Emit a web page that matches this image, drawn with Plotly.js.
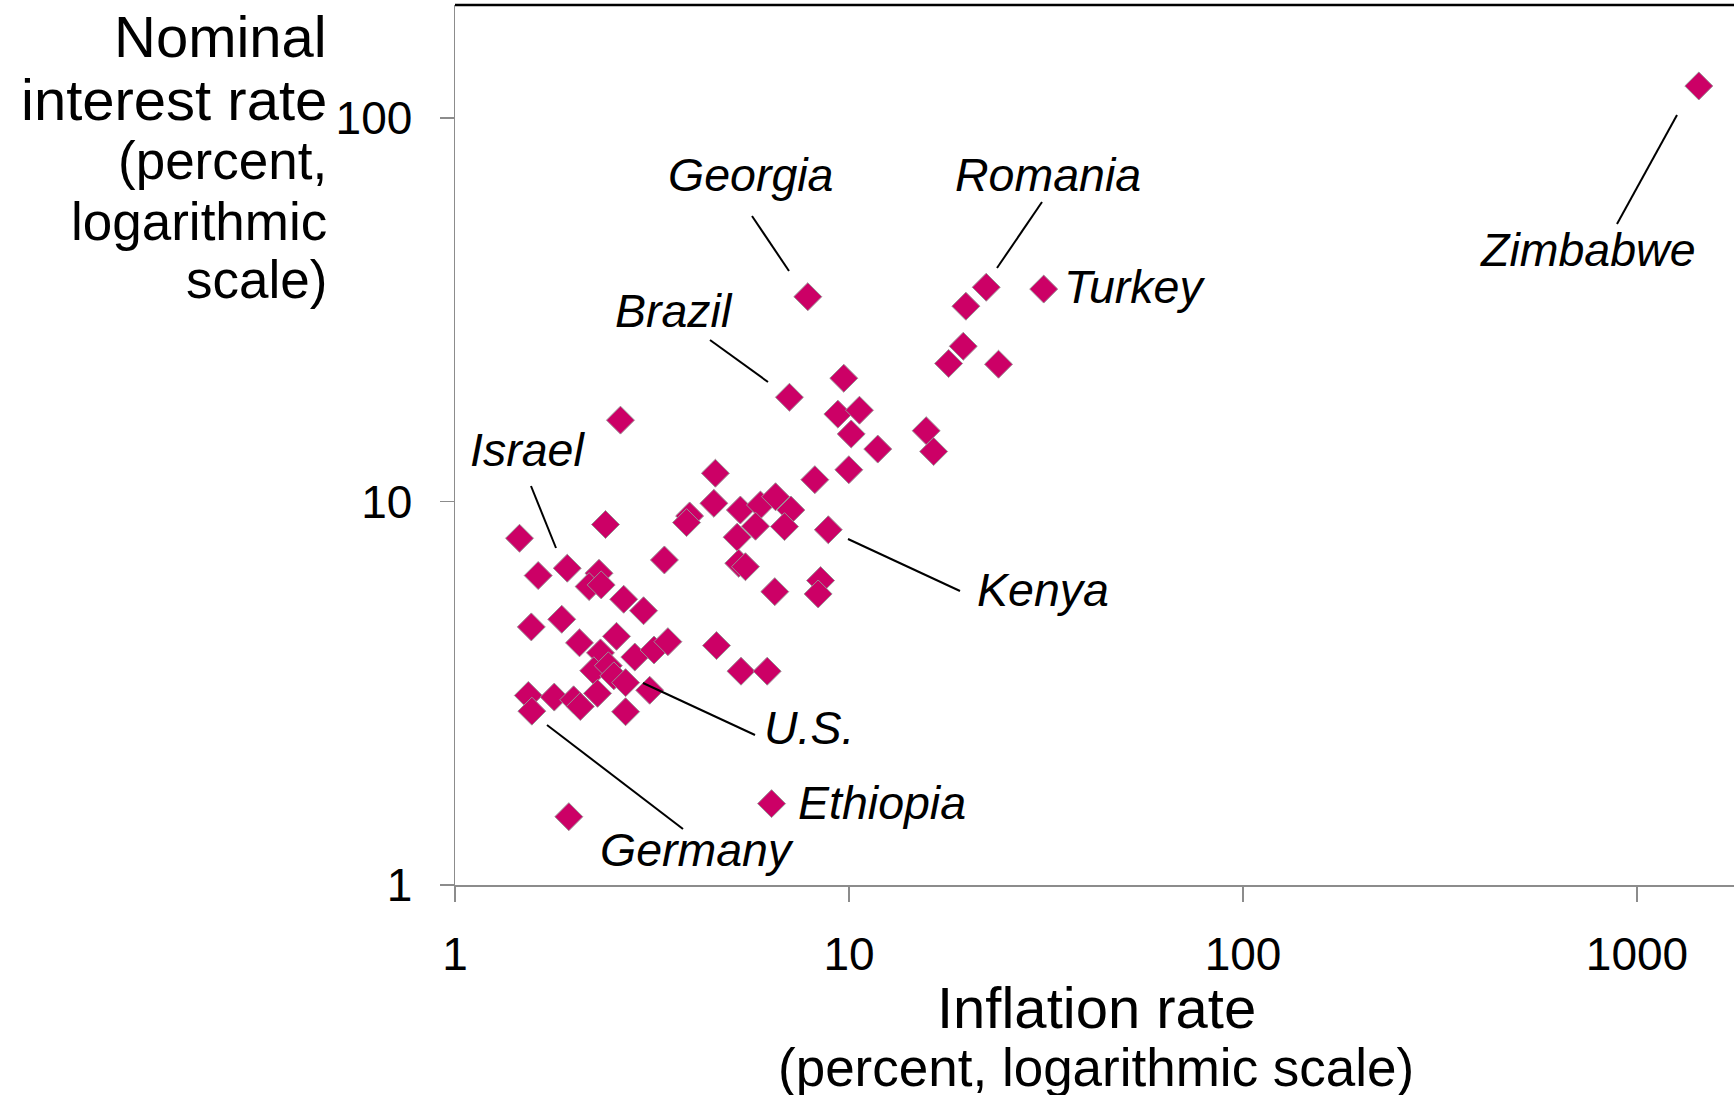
<!DOCTYPE html>
<html>
<head>
<meta charset="utf-8">
<script src="https://cdn.plot.ly/plotly-3.0.1.min.js"></script>
<style>
  html, body { margin: 0; padding: 0; background: #ffffff; }
  #chart { width: 1734px; height: 1095px; }
</style>
</head>
<body>
<div id="chart"></div>
<script>
// ---------------- data ----------------
const inflation = [1435, 7.86, 22.3, 19.8, 31.2, 19.5, 17.9, 23.96, 9.70, 7.06,
  9.37, 10.63, 10.13, 11.83, 15.7, 16.4, 9.99, 8.19, 2.63, 4.58,
  4.54, 5.30, 5.96, 6.51, 7.12, 3.94, 3.87, 5.79, 6.86, 5.20,
  8.86, 5.25, 5.46, 3.40, 6.48, 8.47, 8.35, 3.01, 2.68, 2.41,
  1.458, 1.626, 1.927, 2.32, 2.19, 2.35, 1.562, 1.866, 2.07, 2.57,
  2.34, 2.86, 3.20, 3.47, 4.61, 5.32, 6.20, 2.25, 2.45, 2.53,
  2.71, 2.30, 3.12, 1.535, 1.786, 2.00, 2.08, 1.567, 2.71, 1.945, 6.36];

const interest = [121.2, 34.2, 36.2, 32.3, 35.8, 25.4, 22.9, 22.8, 20.96, 18.7,
  16.9, 17.3, 15.0, 13.7, 15.3, 13.5, 12.1, 11.4, 16.3, 11.85,
  9.89, 9.50, 9.79, 10.29, 9.50, 9.17, 8.81, 8.62, 8.60, 8.07,
  8.44, 6.90, 6.76, 7.04, 5.82, 6.22, 5.74, 5.19, 5.56, 8.71,
  8.02, 6.41, 6.70, 6.50, 6.00, 6.06, 4.71, 4.93, 4.28, 4.45,
  4.03, 3.93, 4.10, 4.31, 4.21, 3.61, 3.61, 3.62, 3.73, 3.51,
  3.37, 3.16, 3.22, 3.12, 3.09, 3.04, 2.92, 2.84, 2.83, 1.507, 1.63];

const xTickVals = [1, 10, 100, 1000];
const xTickText = ['1', '10', '100', '1000'];
const yTickVals = [1, 10, 100];
const yTickText = ['1', '10', '100'];

const countryNames = ['Georgia', 'Romania', 'Turkey', 'Zimbabwe', 'Brazil',
  'Israel', 'Kenya', 'U.S.', 'Ethiopia', 'Germany'];

const yTitleLines = ['Nominal', 'interest rate', '(percent,', 'logarithmic', 'scale)'];
const xTitleLines = ['Inflation rate', '(percent, logarithmic scale)'];

// ---------------- layout geometry (pixels) ----------------
const W = 1734, H = 1095;
const M = { l: 455, r: 0, t: 5, b: 210 };
const PW = W - M.l - M.r, PH = H - M.t - M.b;
const PX_PER_DECADE_X = 394, PX_PER_DECADE_Y = 383.5;
const px = X => (X - M.l) / PW;
const py = Y => (M.t + PH - Y) / PH;

const FONT = 'Liberation Sans, Arial, Helvetica, sans-serif';

// label placement: [centerX, capCenterY, anchor]
const labelPos = {
  'Georgia':  [750, 175, 'center'],
  'Romania':  [1048, 175, 'center'],
  'Turkey':   [1062, 287, 'left'],
  'Zimbabwe': [1588, 250, 'center'],
  'Brazil':   [674, 311, 'center'],
  'Israel':   [527, 450, 'center'],
  'Kenya':    [1043, 590, 'center'],
  'U.S.':     [809, 728, 'center'],
  'Ethiopia': [796, 803, 'left'],
  'Germany':  [697, 850, 'center']
};
// leader lines [x0,y0,x1,y1] in pixels
const leaders = [
  [752, 216, 789, 271],
  [1042, 202, 997, 268],
  [1677, 115, 1617, 224],
  [710, 340, 768, 382],
  [531, 486, 556, 548],
  [848, 539, 960, 591],
  [643, 683, 755, 735],
  [547, 725, 683, 829]
];

const annotations = [];
countryNames.forEach(n => {
  const p = labelPos[n];
  annotations.push({
    xref: 'paper', yref: 'paper', x: px(p[0]), y: py(p[1]),
    xanchor: p[2], yanchor: 'middle', showarrow: false,
    text: '<i>' + n + '</i>',
    font: { family: FONT, size: 46.5, color: '#000000', style: 'italic' }
  });
});
const yTitleCenters = [36, 100, 161, 221, 279];
const yTitleSizes = [58, 58, 53, 53, 53];
yTitleLines.forEach((t, i) => {
  annotations.push({
    xref: 'paper', yref: 'paper', x: px(329), y: py(yTitleCenters[i]),
    xanchor: 'right', yanchor: 'middle', showarrow: false, align: 'right',
    text: t, font: { family: FONT, size: yTitleSizes[i], color: '#000000' }
  });
});
const xTitleCenters = [1007, 1067];
const xTitleSizes = [58, 53];
xTitleLines.forEach((t, i) => {
  annotations.push({
    xref: 'paper', yref: 'paper', x: px(1096), y: py(xTitleCenters[i]),
    xanchor: 'center', yanchor: 'middle', showarrow: false,
    text: t, font: { family: FONT, size: xTitleSizes[i], color: '#000000' }
  });
});

const shapes = leaders.map(s => ({
  type: 'line', xref: 'paper', yref: 'paper',
  x0: px(s[0]), y0: py(s[1]), x1: px(s[2]), y1: py(s[3]),
  line: { color: '#000000', width: 2 }
}));
// black frame line along the top of the plot area
shapes.push({ type: 'line', xref: 'paper', yref: 'paper', x0: 0, x1: 1, y0: 1, y1: 1,
  line: { color: '#000000', width: 2.5 } });

const trace = {
  type: 'scatter', mode: 'markers',
  x: inflation, y: interest,
  marker: { symbol: 'diamond', size: 21.5, color: '#CC0066',
            line: { color: '#9a8f95', width: 1 } },
  hoverinfo: 'skip', cliponaxis: false
};

const axisCommon = {
  type: 'log', showgrid: false, zeroline: false,
  showline: true, linecolor: '#8c8c8c', linewidth: 1.5,
  ticks: 'outside', tickcolor: '#8c8c8c', tickwidth: 1.5,
  tickmode: 'array', automargin: false,
  tickfont: { family: FONT, size: 46, color: '#000000' }
};

const layout = {
  width: W, height: H, margin: M,
  paper_bgcolor: '#ffffff', plot_bgcolor: '#ffffff',
  showlegend: false,
  font: { family: FONT, color: '#000000' },
  xaxis: Object.assign({}, axisCommon, {
    range: [0, PW / PX_PER_DECADE_X],
    tickvals: xTickVals, ticktext: xTickText,
    ticklen: 15, ticklabelstandoff: 13
  }),
  yaxis: Object.assign({}, axisCommon, {
    range: [0, PH / PX_PER_DECADE_Y],
    tickvals: yTickVals, ticktext: yTickText,
    ticklen: 14, ticklabelstandoff: 18
  }),
  annotations: annotations,
  shapes: shapes
};

Plotly.newPlot('chart', [trace], layout, { staticPlot: true, displayModeBar: false });
</script>
</body>
</html>
